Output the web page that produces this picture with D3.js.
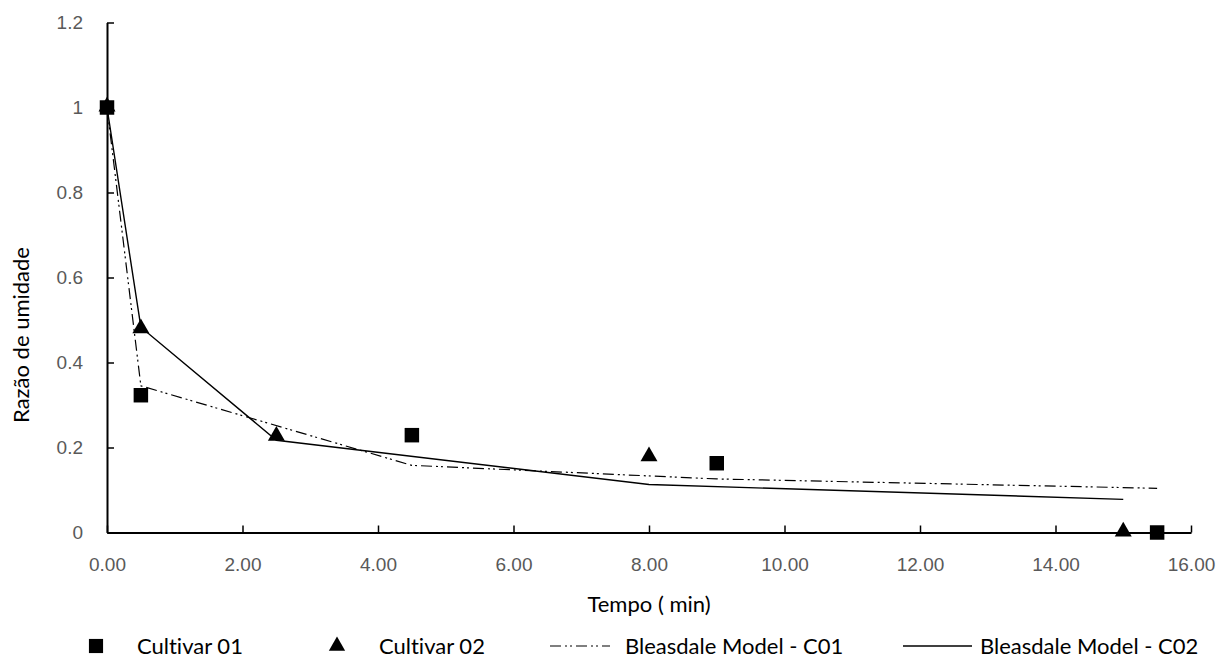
<!DOCTYPE html>
<html>
<head>
<meta charset="utf-8">
<script src="https://cdn.jsdelivr.net/npm/d3@7"></script>
<style>
  body { margin: 0; background: #fff; }
  svg { display: block; font-family: Lato, "Open Sans", sans-serif; font-variant-ligatures: none; }
  .tick text { fill: #595959; font-size: 19px; }
</style>
</head>
<body>
<svg id="chart" width="1220" height="671"></svg>
<script>
// Data
const c01Time = [0, 0.5, 4.5, 9, 15.5];
const c01Ratio = [1, 0.323, 0.229, 0.163, 0];
const c02Time = [0, 0.5, 2.5, 8, 15];
const c02Ratio = [1, 0.478, 0.225, 0.177, 0];
const modelC01Time = [0, 0.5, 4.5, 9, 15.5];
const modelC01Ratio = [1, 0.345, 0.158, 0.126, 0.104];
const modelC02Time = [0, 0.5, 2.5, 8, 15];
const modelC02Ratio = [1, 0.483, 0.217, 0.113, 0.078];
const xTicks = [0, 2, 4, 6, 8, 10, 12, 14, 16];
const yTicks = [0, 0.2, 0.4, 0.6, 0.8, 1, 1.2];

const zip = (xs, ys) => xs.map((x, i) => ({ x: x, y: ys[i] }));

const svg = d3.select("#chart");
const xScale = d3.scaleLinear().domain([0, 16]).range([107, 1191]);
const yScale = d3.scaleLinear().domain([0, 1.2]).range([532.5, 22.5]);

// Axes (ticks inward, like the original)
const xAxis = d3.axisBottom(xScale)
  .tickValues(xTicks)
  .tickFormat(d3.format(".2f"))
  .tickSizeInner(-7)
  .tickSizeOuter(0)
  .tickPadding(26);
const gx = svg.append("g").attr("transform", `translate(0, ${yScale(0)})`).call(xAxis);

const yAxis = d3.axisLeft(yScale)
  .tickValues(yTicks)
  .tickFormat((d) => d3.format("")(d))
  .tickSizeInner(-7)
  .tickSizeOuter(0)
  .tickPadding(24);
const gy = svg.append("g").attr("transform", `translate(${xScale(0)}, 0)`).call(yAxis);

svg.selectAll(".domain").attr("stroke", "#000").attr("stroke-width", 2);
svg.selectAll(".tick line").attr("stroke", "#000").attr("stroke-width", 1.5);
gx.selectAll(".tick text").attr("dy", "0.35em").attr("y", 32);

// Model lines
const line = d3.line().x((d) => xScale(d.x)).y((d) => yScale(d.y));
const dashC01 = "11,4,2,3,2,4";

svg.append("path")
  .datum(zip(modelC01Time, modelC01Ratio))
  .attr("fill", "none")
  .attr("stroke", "#000")
  .attr("stroke-width", 1.2)
  .attr("stroke-dasharray", dashC01)
  .attr("d", line);

svg.append("path")
  .datum(zip(modelC02Time, modelC02Ratio))
  .attr("fill", "none")
  .attr("stroke", "#000")
  .attr("stroke-width", 1.4)
  .attr("d", line);

// Markers
const square = d3.symbol().type(d3.symbolSquare).size(210);
const triangle = d3.symbol().type(d3.symbolTriangle).size(125);

svg.append("g").selectAll("path")
  .data(zip(c01Time, c01Ratio))
  .join("path")
  .attr("transform", (d) => `translate(${xScale(d.x)}, ${yScale(d.y)})`)
  .attr("d", square)
  .attr("fill", "#000");

svg.append("g").selectAll("path")
  .data(zip(c02Time, c02Ratio))
  .join("path")
  .attr("transform", (d) => `translate(${xScale(d.x)}, ${yScale(d.y) - 1})`)
  .attr("d", triangle)
  .attr("fill", "#000");

// Axis titles
svg.append("text")
  .attr("x", 649)
  .attr("y", 612)
  .attr("text-anchor", "middle")
  .style("font-size", "22px")
  .attr("fill", "#000")
  .text("Tempo ( min)");

svg.append("text")
  .attr("transform", "translate(29, 335) rotate(-90)")
  .attr("text-anchor", "middle")
  .style("font-size", "22px")
  .attr("fill", "#000")
  .text("Razão de umidade");

// Legend
const legendY = 646;
const legend = svg.append("g").style("font-size", "22px");

legend.append("path")
  .attr("transform", `translate(96, ${legendY})`)
  .attr("d", d3.symbol().type(d3.symbolSquare).size(200))
  .attr("fill", "#000");
legend.append("text").attr("x", 137).attr("y", legendY + 8).text("Cultivar 01");

legend.append("path")
  .attr("transform", `translate(337, ${legendY})`)
  .attr("d", d3.symbol().type(d3.symbolTriangle).size(115))
  .attr("fill", "#000");
legend.append("text").attr("x", 379).attr("y", legendY + 8).text("Cultivar 02");

legend.append("line")
  .attr("x1", 550).attr("x2", 610)
  .attr("y1", legendY).attr("y2", legendY)
  .attr("stroke", "#000").attr("stroke-width", 1.2)
  .attr("stroke-dasharray", dashC01);
legend.append("text").attr("x", 625).attr("y", legendY + 8).text("Bleasdale Model - C01");

legend.append("line")
  .attr("x1", 903).attr("x2", 972)
  .attr("y1", legendY).attr("y2", legendY)
  .attr("stroke", "#000").attr("stroke-width", 1.4);
legend.append("text").attr("x", 980).attr("y", legendY + 8).text("Bleasdale Model - C02");
</script>
</body>
</html>
